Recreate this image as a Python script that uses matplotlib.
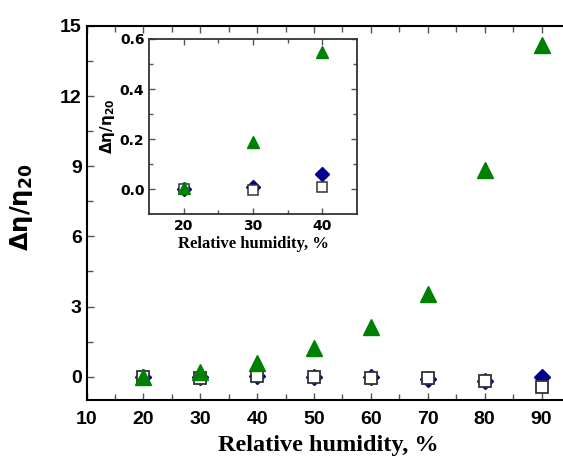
import matplotlib
matplotlib.use("Agg")
import matplotlib.pyplot as plt

# 主图数据
rh = [20, 30, 40, 50, 60, 70, 80, 90]
tri_main = [0.0, 0.21, 0.58, 1.22, 2.14, 3.55, 8.83, 14.2]
dia_main = [0.0, -0.02, 0.02, 0.0, -0.03, -0.1, -0.2, -0.01]
sq_main = [0.0, -0.07, 0.01, 0.0, -0.05, -0.04, -0.17, -0.43]

# 插图数据
rh_in = [20, 30, 40]
tri_in = [0.005, 0.19, 0.55]
dia_in = [0.0, 0.01, 0.062]
sq_in = [0.0, -0.002, 0.01]

SANS = ["Liberation Sans Narrow", "Liberation Sans", "DejaVu Sans"]
SERIF = ["Liberation Serif", "DejaVu Serif"]
GREEN = "#008000"
NAVY = "#000090"

fig = plt.figure(figsize=(5.63, 4.66), dpi=100)
W, H = 563, 466

# 主坐标轴 (右边界超出图像)
l, r, t, b = 86.5, 570, 26, 400
ax = fig.add_axes([l / W, 1 - b / H, (r - l) / W, (b - t) / H])
ax.plot(rh, dia_main, "D", color=NAVY, ms=8, zorder=3)
ax.plot(rh, sq_main, "s", mfc="white", mec="#333333", mew=1.3, ms=9, zorder=4)
ax.plot(rh, tri_main, "^", color=GREEN, ms=11.5, zorder=5)
ax.set_xlim(10, 95)
ax.set_ylim(-1, 15)
ax.set_xticks(range(10, 91, 10))
ax.set_xticks(range(15, 95, 10), minor=True)
ax.set_yticks([0, 3, 6, 9, 12, 15])
ax.set_yticks([1.5, 4.5, 7.5, 10.5, 13.5], minor=True)
ax.tick_params(which="both", direction="in", top=True, right=True,
               color="#555555", width=1)
ax.tick_params(which="major", length=5)
ax.tick_params(which="minor", length=4)
ax.tick_params(axis="x", pad=8)
for lab in ax.get_xticklabels() + ax.get_yticklabels():
    lab.set_family(SANS)
    lab.set_fontweight("bold")
    lab.set_fontsize(14)
for s in ax.spines.values():
    s.set_linewidth(1.5)
ax.set_xlabel("Relative humidity, %", family=SERIF, fontweight="bold",
              fontsize=17.5)
ax.xaxis.set_label_coords((328 - l) / (r - l), -0.093)
ax.set_ylabel(r"$\mathbf{\Delta\eta/\eta_{20}}$", fontsize=17.5)
ax.yaxis.set_label_coords(-0.106, (400 - 207) / (b - t))

# 插图
il, ir, it, ib = 149.3, 356.7, 39, 214.3
ax2 = fig.add_axes([il / W, 1 - ib / H, (ir - il) / W, (ib - it) / H])
ax2.plot(rh_in, dia_in, "D", color=NAVY, ms=7, zorder=3)
ax2.plot(rh_in, sq_in, "s", mfc="white", mec="#333333", mew=1.1, ms=7, zorder=4)
ax2.plot(rh_in, tri_in, "^", color=GREEN, ms=9, zorder=5)
ax2.set_xlim(15, 45)
ax2.set_ylim(-0.1, 0.6)
ax2.set_xticks([20, 30, 40])
ax2.set_xticks([25, 35], minor=True)
ax2.set_yticks([0.0, 0.2, 0.4, 0.6])
ax2.set_yticks([0.1, 0.3, 0.5], minor=True)
ax2.set_yticklabels(["0.0", "0.2", "0.4", "0.6"])
ax2.tick_params(which="both", direction="in", top=True, right=True,
                color="#555555", width=1, labelsize=10)
ax2.tick_params(which="major", length=4)
ax2.tick_params(which="minor", length=3)
for lab in ax2.get_xticklabels() + ax2.get_yticklabels():
    lab.set_fontweight("bold")
for s in ax2.spines.values():
    s.set_linewidth(1.3)
    s.set_color("#333333")
ax2.set_xlabel("Relative humidity, %", family=SERIF, fontweight="bold",
               fontsize=12, labelpad=2)
ax2.set_ylabel(r"$\mathbf{\Delta\eta/\eta_{20}}$", fontsize=11)
ax2.yaxis.set_label_coords((117 - il) / (ir - il), (ib - 126) / (ib - it))

fig.savefig("out.png", dpi=100)
